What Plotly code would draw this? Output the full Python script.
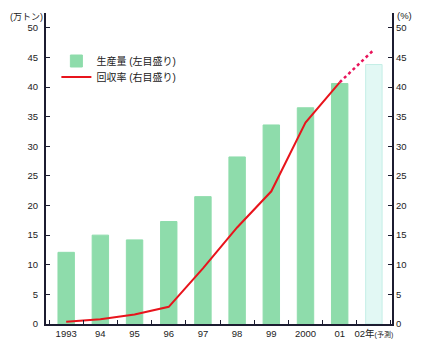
import plotly.graph_objects as go

years = ["1993", "94", "95", "96", "97", "98", "99", "2000", "01", "02年(予測)"]
year_labels = ["1993", "94", "95", "96", "97", "98", "99", "2000", "01",
               "02年<span style='font-size:7px'>(予測)</span>"]
production = [12.1, 15.0, 14.2, 17.3, 21.5, 28.2, 33.6, 36.5, 40.6, 43.8]
recovery = [0.4, 0.8, 1.6, 2.9, 9.4, 16.3, 22.4, 34.0, 40.8]
recovery_forecast = [40.8, 46.3]

bar_colors = ["#8edcab"] * 9 + ["#e2f8f4"]
bar_lines = ["#8edcab"] * 9 + ["#c4eee6"]

font_main = "Liberation Sans, Noto Sans CJK JP, sans-serif"
axis_col = "#1c1c30"
txt_col = "#222222"
ticks5 = [0, 5, 10, 15, 20, 25, 30, 35, 40, 45, 50]

fig = go.Figure()
fig.add_trace(go.Bar(
    x=years, y=production, name="生産量 (左目盛り)", legend="legend",
    marker=dict(color=bar_colors, line=dict(color=bar_lines, width=1)),
    width=0.48,
))
fig.add_trace(go.Scatter(
    x=years[:9], y=recovery, name="回収率 (右目盛り)", yaxis="y2",
    legend="legend2",
    mode="lines", line=dict(color="#e8141c", width=2),
))
fig.add_trace(go.Scatter(
    x=years[8:], y=recovery_forecast, yaxis="y2", showlegend=False,
    mode="lines", line=dict(color="#e8145a", width=2.5, dash="dot"),
))

leg_common = dict(xanchor="left", yanchor="middle", bgcolor="rgba(0,0,0,0)",
                  font=dict(size=10, color=txt_col), itemwidth=30)

# page has an 8px body margin, so the figure is drawn 8px smaller and offset
fig.update_layout(
    width=431, height=342,
    margin=dict(l=38, r=47, t=5, b=26),
    paper_bgcolor="white", plot_bgcolor="white",
    font=dict(family=font_main, size=10, color=txt_col),
    showlegend=True,
    legend=dict(x=0.03, y=(316 - 53) / 311, **leg_common),
    legend2=dict(x=0.03, y=(316 - 69) / 311, **leg_common),
    xaxis=dict(
        type="category", tickvals=years, ticktext=year_labels, tickangle=0,
        automargin=False,
        range=[-0.59, 9.53], showline=True, linecolor=axis_col, linewidth=2,
        ticks="inside", tickson="boundaries", ticklen=4, tickcolor=axis_col,
        showgrid=False, zeroline=False, tickfont=dict(size=9.5),
    ),
    yaxis=dict(
        range=[0, 52.5], tickvals=ticks5, automargin=False,
        showline=True, linecolor=axis_col, linewidth=2, ticks="inside",
        ticklen=4, tickcolor=axis_col, showgrid=False, zeroline=False,
        tickfont=dict(size=9.5), ticklabelstandoff=4,
    ),
    yaxis2=dict(
        range=[0, 52.5], tickvals=ticks5, automargin=False,
        overlaying="y", side="right", showline=True, linecolor=axis_col,
        linewidth=2, ticks="inside", ticklen=4, tickcolor=axis_col,
        showgrid=False, zeroline=False, tickfont=dict(size=9.5),
        ticklabelstandoff=0,
    ),
    annotations=[
        dict(text="(万トン)", xref="paper", yref="paper", x=-0.003, y=0.988,
             xanchor="right", yanchor="middle", showarrow=False,
             font=dict(size=9, color=txt_col)),
        dict(text="(%)", xref="paper", yref="paper", x=1.01, y=0.993,
             xanchor="left", yanchor="middle", showarrow=False,
             font=dict(size=9.5, color=txt_col)),
    ],
)

fig.write_html("out.html")
